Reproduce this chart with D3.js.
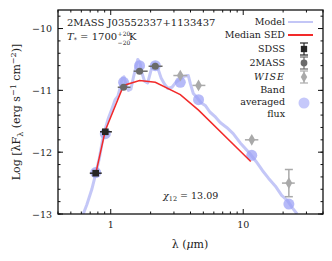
<!DOCTYPE html>
<html>
<meta charset="utf-8">
<style>
  body { margin: 0; background: #fff; }
  text { font-family: "DejaVu Serif", serif; fill: #222; }
</style>
<body>
<svg width="332" height="261"></svg>
<script src="https://d3js.org/d3.v7.min.js"></script>
<script>
// model spectrum (wavelength in micron, log lambda F_lambda)
let modelWave = [0.62,0.66,0.72,0.77,0.82,0.86,0.91,0.96,1.02,1.08,1.13,1.18,1.22,1.26,1.30,1.36,1.42,1.48,1.55,1.60,1.66,1.72,1.80,1.90,2.00,2.08,2.16,2.25,2.40,2.55,2.70,2.90,3.10,3.35,3.60,3.85,4.00,4.20,4.50,4.80,5.20,5.60,6.10,6.70,7.50,8.40,9.50,11.0,12.5,14.0,15.5,17.5,19.5,21.5,23.5,25.5]
let modelFlux = [-13.0,-12.85,-12.6,-12.35,-12.1,-11.85,-11.62,-11.45,-11.3,-11.15,-11.1,-10.95,-10.8,-10.78,-10.9,-11.0,-10.98,-10.8,-10.62,-10.5,-10.55,-10.72,-10.85,-10.88,-10.7,-10.58,-10.56,-10.62,-10.8,-10.9,-10.97,-10.95,-10.87,-10.82,-10.77,-10.76,-10.9,-11.05,-11.12,-11.2,-11.25,-11.35,-11.42,-11.52,-11.6,-11.7,-11.85,-12.0,-12.15,-12.3,-12.42,-12.55,-12.7,-12.78,-12.9,-13.0]

// median SED
let sedWave = [0.77,0.91,1.25,1.65,2.17,3.35,4.6,11.4]
let sedFlux = [-12.35,-11.65,-10.92,-10.84,-10.87,-11.07,-11.32,-12.15]

// photometry: wavelength, flux, band lower/upper wavelength, flux error
let sdssWave = [0.77,0.91]
let sdssFlux = [-12.34,-11.67]
let sdssLo = [0.695,0.83]
let sdssHi = [0.855,1.02]
let sdssErr = [0.02,0.02]

let tmassWave = [1.25,1.65,2.17]
let tmassFlux = [-10.95,-10.69,-10.61]
let tmassLo = [1.13,1.49,1.93]
let tmassHi = [1.41,1.9,2.46]
let tmassErr = [0.02,0.02,0.02]

let wiseWave = [3.35,4.6,11.6,22.1]
let wiseFlux = [-10.76,-10.92,-11.8,-12.5]
let wiseLo = [2.97,4.14,10.3,19.6]
let wiseHi = [3.79,5.18,13.0,24.5]
let wiseErr = [0.02,0.03,0.03,0.22]

// band averaged model flux
let bandWave = [0.77,0.91,1.25,1.65,2.17,3.35,4.6,11.6,22.1]
let bandFlux = [-12.33,-11.7,-10.87,-10.6,-10.6,-10.87,-11.15,-12.05,-12.84]

let xMajor = [1,10]
let xMinor = [0.4,0.5,0.6,0.7,0.8,0.9,2,3,4,5,6,7,8,9,20,30,40]
let yMajor = [-10,-11,-12,-13]

let W = 332, H = 261
let m = {left: 58, top: 10, right: 9, bottom: 47}
let svg = d3.select('svg')

let x = d3.scaleLog().domain([0.4, 40]).range([m.left, W - m.right])
let y = d3.scaleLinear().domain([-13, -9.7]).range([H - m.bottom, m.top])

svg.append('clipPath').attr('id', 'clip')
  .append('rect')
  .attr('x', m.left).attr('y', m.top)
  .attr('width', W - m.left - m.right).attr('height', H - m.top - m.bottom)

let plot = svg.append('g').attr('clip-path', 'url(#clip)')

// model
let modelLine = d3.line().x(d => x(d[0])).y(d => y(d[1]))
let model = d3.zip(modelWave, modelFlux)
plot.append('path')
  .attr('d', modelLine(model))
  .attr('fill', 'none')
  .attr('stroke', '#bec1f6')
  .attr('stroke-width', 3)
  .attr('stroke-linejoin', 'round')
  .attr('opacity', 0.9)

// band averaged flux
plot.append('g').selectAll('circle')
  .data(d3.zip(bandWave, bandFlux)).enter()
  .append('circle')
  .attr('cx', d => x(d[0])).attr('cy', d => y(d[1]))
  .attr('r', 5.5)
  .attr('fill', '#9ea3f6')
  .attr('opacity', 0.75)

// median SED
plot.append('path')
  .attr('d', modelLine(d3.zip(sedWave, sedFlux)))
  .attr('fill', 'none')
  .attr('stroke', '#f22a2a')
  .attr('stroke-width', 1.5)

// error bars + markers
function drawSet(wave, flux, lo, hi, err, color, shape, size) {
  let g = plot.append('g')
  let rows = wave.map((w, i) => ({w: w, f: flux[i], lo: lo[i], hi: hi[i], e: err[i]}))
  g.selectAll('.h').data(rows).enter().append('line')
    .attr('x1', d => x(d.lo)).attr('x2', d => x(d.hi))
    .attr('y1', d => y(d.f)).attr('y2', d => y(d.f))
    .attr('stroke', color).attr('stroke-width', 1.5)
  g.selectAll('.v').data(rows).enter().append('line')
    .attr('x1', d => x(d.w)).attr('x2', d => x(d.w))
    .attr('y1', d => y(d.f - d.e)).attr('y2', d => y(d.f + d.e))
    .attr('stroke', color).attr('stroke-width', 1.5)
  let big = rows.filter(d => d.e > 0.1)
  ;[-1, 1].forEach(s => g.selectAll('.cap').data(big).enter().append('line')
    .attr('x1', d => x(d.w) - 4).attr('x2', d => x(d.w) + 4)
    .attr('y1', d => y(d.f + s * d.e)).attr('y2', d => y(d.f + s * d.e))
    .attr('stroke', color).attr('stroke-width', 1.5))
  g.selectAll('path').data(rows).enter().append('path')
    .attr('transform', d => `translate(${x(d.w)},${y(d.f)})`)
    .attr('d', d3.symbol().type(shape).size(size))
    .attr('fill', color)
}
drawSet(sdssWave, sdssFlux, sdssLo, sdssHi, sdssErr, '#262626', d3.symbolSquare, 44)
drawSet(tmassWave, tmassFlux, tmassLo, tmassHi, tmassErr, '#6a6a6a', d3.symbolCircle, 40)
drawSet(wiseWave, wiseFlux, wiseLo, wiseHi, wiseErr, '#a9a9a9', d3.symbolDiamond, 40)

// frame and ticks
let x0 = m.left, x1 = W - m.right, y0 = H - m.bottom, y1 = m.top
let axes = svg.append('g').attr('stroke', '#111')
function tickX(v, len) {
  axes.append('line').attr('x1', x(v)).attr('x2', x(v)).attr('y1', y0).attr('y2', y0 - len)
  axes.append('line').attr('x1', x(v)).attr('x2', x(v)).attr('y1', y1).attr('y2', y1 + len)
}
function tickY(v, len) {
  axes.append('line').attr('y1', y(v)).attr('y2', y(v)).attr('x1', x0).attr('x2', x0 + len)
  axes.append('line').attr('y1', y(v)).attr('y2', y(v)).attr('x1', x1).attr('x2', x1 - len)
}
xMajor.forEach(v => tickX(v, 5))
xMinor.forEach(v => tickX(v, 2.5))
d3.range(-13, -9.6, 0.2).forEach(v => tickY(v, 2.5))
yMajor.forEach(v => tickY(v, 5))
axes.append('rect').attr('x', x0).attr('y', y1).attr('width', x1 - x0).attr('height', y0 - y1)
  .attr('fill', 'none').attr('stroke-width', 1.3)

svg.append('g').selectAll('text').data(xMajor).enter().append('text')
  .attr('x', d => x(d)).attr('y', y0 + 14)
  .attr('text-anchor', 'middle').attr('font-size', 9.5)
  .text(d => d)
svg.append('g').selectAll('text').data(yMajor).enter().append('text')
  .attr('x', x0 - 6).attr('y', d => y(d) + 3.5)
  .attr('text-anchor', 'end').attr('font-size', 9.5)
  .text(d => '\u2212' + Math.abs(d))

// axis labels
let xl = svg.append('text').attr('x', 190).attr('y', 248).attr('text-anchor', 'middle').attr('font-size', 11)
xl.append('tspan').text('\u03bb (')
xl.append('tspan').attr('font-style', 'italic').text('\u03bc')
xl.append('tspan').text('m)')

let yl = svg.append('text').attr('transform', 'translate(20,112) rotate(-90)')
  .attr('text-anchor', 'middle').attr('font-size', 11)
yl.append('tspan').text('Log [\u03bbF')
yl.append('tspan').attr('font-size', 8).attr('dy', 3).text('\u03bb')
yl.append('tspan').attr('dy', -3).text(' (erg s')
yl.append('tspan').attr('font-size', 8).attr('dy', -4).text('\u22121')
yl.append('tspan').attr('dy', 4).text(' cm')
yl.append('tspan').attr('font-size', 8).attr('dy', -4).text('\u22122')
yl.append('tspan').attr('dy', 4).text(')]')

// annotations
svg.append('text').attr('x', 67).attr('y', 26).attr('font-size', 10).text('2MASS J03552337+1133437')
let t = svg.append('text').attr('x', 67).attr('y', 40).attr('font-size', 10)
t.append('tspan').attr('font-style', 'italic').text('T')
t.append('tspan').attr('font-size', 6.5).attr('dy', 2).text('*')
t.append('tspan').attr('dy', -2).text(' = 1700')
let tw = t.node().getComputedTextLength()
svg.append('text').attr('x', 67 + tw + 0.5).attr('y', 35.5).attr('font-size', 6).text('+20')
svg.append('text').attr('x', 67 + tw + 0.5).attr('y', 44.5).attr('font-size', 6).text('\u221220')
svg.append('text').attr('x', 67 + tw + 12).attr('y', 40).attr('font-size', 10).text('K')

let chi = svg.append('text').attr('x', 163).attr('y', 199).attr('font-size', 9.5)
chi.append('tspan').attr('font-style', 'italic').text('\u03c7')
chi.append('tspan').attr('font-size', 6.5).attr('dy', 2).text('12')
chi.append('tspan').attr('dy', -2).text(' = 13.09')

// legend
let lg = svg.append('g')
let lx = 285, sx = 304
let legText = (yy, s, italic) => lg.append('text').attr('x', lx).attr('y', yy)
  .attr('text-anchor', 'end').attr('font-size', 9.5)
  .attr('font-style', italic ? 'italic' : null)
  .attr('letter-spacing', italic ? 1 : null).text(s)
legText(25, 'Model')
lg.append('line').attr('x1', 288).attr('x2', 313).attr('y1', 22).attr('y2', 22)
  .attr('stroke', '#c3c6f6').attr('stroke-width', 2)
legText(38, 'Median SED')
lg.append('line').attr('x1', 288).attr('x2', 313).attr('y1', 35).attr('y2', 35)
  .attr('stroke', '#f22a2a').attr('stroke-width', 2)
let legMark = (yy, color, shape, size) => {
  lg.append('line').attr('x1', sx).attr('x2', sx).attr('y1', yy - 6).attr('y2', yy + 6)
    .attr('stroke', color).attr('stroke-width', 1.2)
  ;[yy - 6, yy + 6].forEach(c => lg.append('line').attr('x1', sx - 4).attr('x2', sx + 4)
    .attr('y1', c).attr('y2', c).attr('stroke', color).attr('stroke-width', 1.2))
  lg.append('path').attr('transform', `translate(${sx},${yy})`)
    .attr('d', d3.symbol().type(shape).size(size)).attr('fill', color)
}
legText(52, 'SDSS'); legMark(49, '#262626', d3.symbolSquare, 40)
legText(66, '2MASS'); legMark(63, '#6a6a6a', d3.symbolCircle, 36)
legText(80, 'WISE', true); legMark(77, '#a9a9a9', d3.symbolDiamond, 36)
legText(93, 'Band')
legText(105, 'averaged')
legText(117, 'flux')
lg.append('circle').attr('cx', sx).attr('cy', 103).attr('r', 5.5).attr('fill', '#9ea3f6').attr('opacity', 0.6)
</script>
</body>
</html>
